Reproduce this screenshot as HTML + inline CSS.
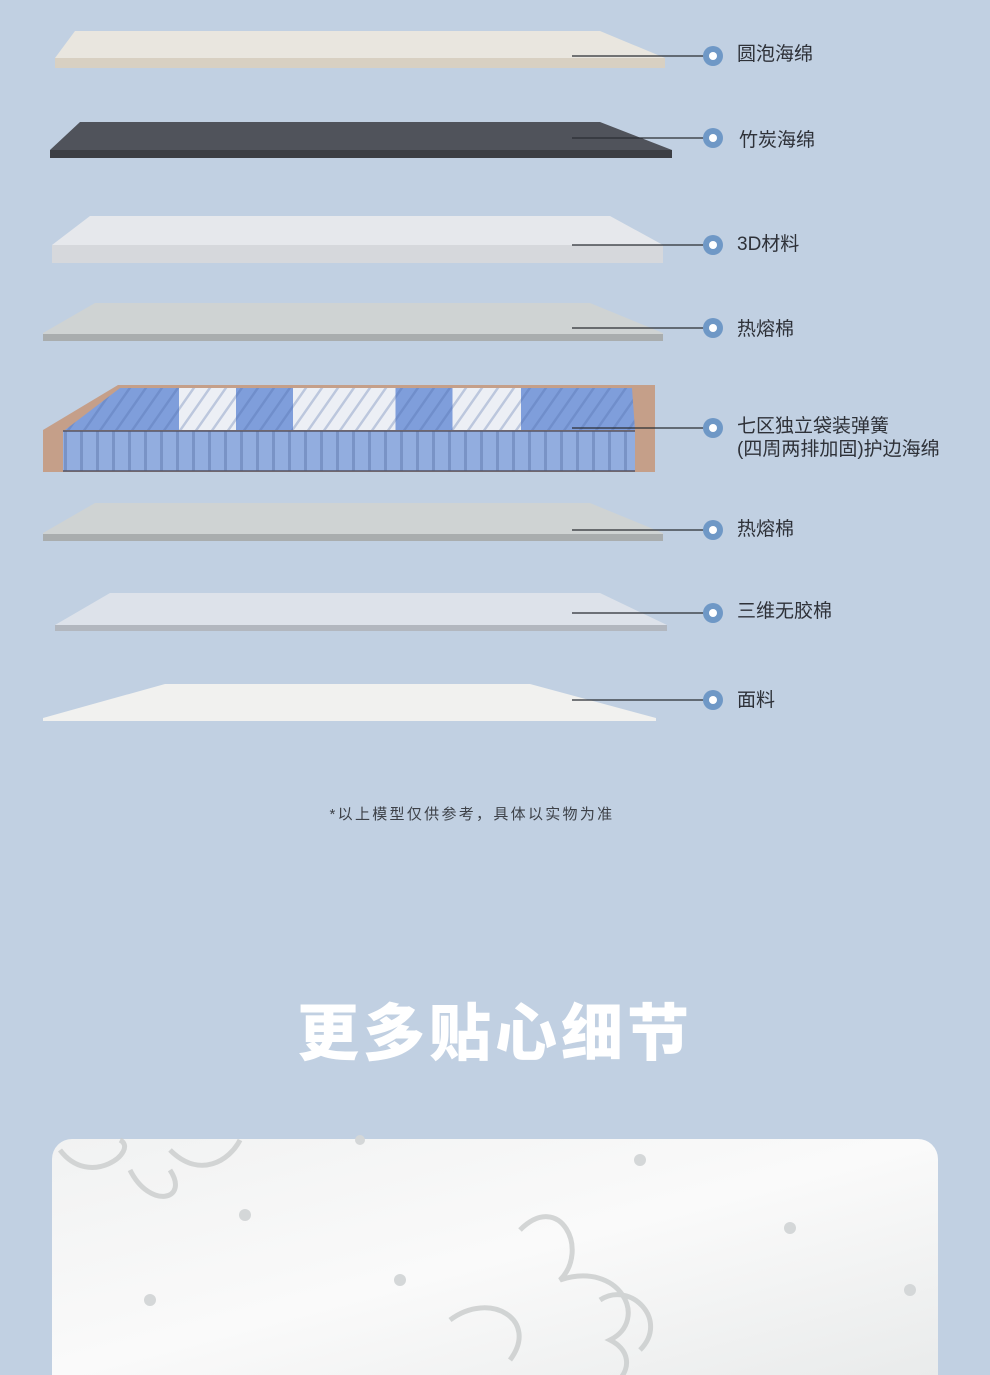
<!DOCTYPE html>
<html><head><meta charset="utf-8"><style>
html,body{margin:0;padding:0;}
body{width:990px;height:1375px;background:#c1d0e2;position:relative;overflow:hidden;font-family:"Liberation Sans","Noto Sans CJK SC",sans-serif;}
.lbl{position:absolute;left:737px;font-size:19px;color:#2e3138;line-height:24px;}
</style></head><body>
<svg width="990" height="1375" style="position:absolute;left:0;top:0">
<defs>
<linearGradient id="zones" x1="0" x2="1" y1="0" y2="0">
<stop offset="0" stop-color="#7f9edb"/><stop offset="0.2" stop-color="#7f9edb"/>
<stop offset="0.2" stop-color="#eceff5"/><stop offset="0.3" stop-color="#eceff5"/>
<stop offset="0.3" stop-color="#7f9edb"/><stop offset="0.4" stop-color="#7f9edb"/>
<stop offset="0.4" stop-color="#eceff5"/><stop offset="0.58" stop-color="#eceff5"/>
<stop offset="0.58" stop-color="#7f9edb"/><stop offset="0.68" stop-color="#7f9edb"/>
<stop offset="0.68" stop-color="#eceff5"/><stop offset="0.8" stop-color="#eceff5"/>
<stop offset="0.8" stop-color="#7f9edb"/><stop offset="1" stop-color="#7f9edb"/>
</linearGradient>
<pattern id="vl" width="16" height="40" patternUnits="userSpaceOnUse">
<rect width="16" height="40" fill="none"/><rect x="0" width="3" height="40" fill="#5c74a8" opacity="0.45"/>
</pattern>
<pattern id="sl" width="16" height="45" patternUnits="userSpaceOnUse" patternTransform="skewX(-35)">
<rect x="0" width="3" height="45" fill="#4c6aa6" opacity="0.3"/>
</pattern>
<linearGradient id="panel" x1="0" x2="1" y1="0" y2="1">
<stop offset="0" stop-color="#f1f2f2"/><stop offset="0.5" stop-color="#fafafa"/><stop offset="1" stop-color="#e9ebeb"/>
</linearGradient>
</defs>
<polygon points="75,31 600,31 665,58 665,68 55,68 55,58" fill="#e9e6df"/>
<rect x="55" y="58" width="610" height="10" fill="#d8d0c2"/>
<polygon points="80,122 600,122 672,150 672,158 50,158 50,150" fill="#50535b"/>
<rect x="50" y="150" width="622" height="8" fill="#3c3e44"/>
<polygon points="90,216 610,216 663,245 663,263 52,263 52,245" fill="#e6e8ec"/>
<rect x="52" y="245" width="611" height="18" fill="#d6d8dc"/>
<polygon points="95,303 590,303 663,333 663,341 43,341 43,333" fill="#cfd3d3"/>
<rect x="43" y="334" width="620" height="7" fill="#a9adae"/>
<polygon points="43,430 118,385 655,385 655,472 43,472" fill="#c59f89"/>
<polygon points="120,388 632,388 635,430 65,430" fill="url(#zones)"/>
<polygon points="120,388 632,388 635,430 65,430" fill="url(#sl)"/>
<rect x="63" y="431" width="572" height="40" fill="#92addf"/>
<rect x="63" y="431" width="572" height="40" fill="url(#vl)"/>
<line x1="63" y1="431" x2="635" y2="431" stroke="#556" stroke-width="1.5"/>
<line x1="63" y1="471" x2="635" y2="471" stroke="#556" stroke-width="1.5"/>
<polygon points="95,503 590,503 663,533 663,541 43,541 43,533" fill="#cfd3d3"/>
<rect x="43" y="534" width="620" height="7" fill="#a9adae"/>
<polygon points="110,593 600,593 667,625 667,631 55,631 55,625" fill="#dde2ea"/>
<rect x="55" y="625" width="612" height="6" fill="#b2b7bf"/>
<polygon points="165,684 530,684 656,718 656,721 43,721 43,718" fill="#f1f1ef"/>
<g stroke="#2a2d33" stroke-width="1.2">
<line x1="572" y1="56" x2="704" y2="56"/>
<line x1="572" y1="138" x2="704" y2="138"/>
<line x1="572" y1="245" x2="704" y2="245"/>
<line x1="572" y1="328" x2="704" y2="328"/>
<line x1="572" y1="428" x2="704" y2="428"/>
<line x1="572" y1="530" x2="704" y2="530"/>
<line x1="572" y1="613" x2="704" y2="613"/>
<line x1="572" y1="700" x2="704" y2="700"/>
</g>
<g fill="#6f98c6">
<circle cx="713" cy="56" r="10"/><circle cx="713" cy="138" r="10"/><circle cx="713" cy="245" r="10"/><circle cx="713" cy="328" r="10"/>
<circle cx="713" cy="428" r="10"/><circle cx="713" cy="530" r="10"/><circle cx="713" cy="613" r="10"/><circle cx="713" cy="700" r="10"/>
</g>
<g fill="#fff">
<circle cx="713" cy="56" r="4"/><circle cx="713" cy="138" r="4"/><circle cx="713" cy="245" r="4"/><circle cx="713" cy="328" r="4"/>
<circle cx="713" cy="428" r="4"/><circle cx="713" cy="530" r="4"/><circle cx="713" cy="613" r="4"/><circle cx="713" cy="700" r="4"/>
</g>
<path d="M72,1139 H918 A20,20 0 0 1 938,1159 V1375 H52 V1159 A20,20 0 0 1 72,1139 Z" fill="url(#panel)"/>
<g fill="none" stroke="#c9cccc" stroke-width="5" opacity="0.8">
<path d="M520,1230 c40,-40 70,20 40,50 c60,-20 90,40 50,60 c40,20 0,70 -40,40"/>
<path d="M450,1320 c40,-30 90,0 60,40 M600,1300 c30,-20 70,20 40,50"/>
<path d="M60,1150 c30,40 80,0 60,-10 M130,1170 c20,40 60,30 40,0 M170,1150 c30,30 60,10 70,-10"/>
</g>
<g fill="#d4d7d8">
<circle cx="245" cy="1215" r="6"/><circle cx="400" cy="1280" r="6"/><circle cx="640" cy="1160" r="6"/><circle cx="790" cy="1228" r="6"/><circle cx="910" cy="1290" r="6"/><circle cx="150" cy="1300" r="6"/><circle cx="360" cy="1140" r="5"/>
</g>
</svg>
<div class="lbl" style="top:43px">圆泡海绵</div>
<div class="lbl" style="top:129px;left:739px">竹炭海绵</div>
<div class="lbl" style="top:233px">3D材料</div>
<div class="lbl" style="top:318px">热熔棉</div>
<div class="lbl" style="top:415px;line-height:23px">七区独立袋装弹簧<br>(四周两排加固)护边海绵</div>
<div class="lbl" style="top:518px">热熔棉</div>
<div class="lbl" style="top:600px">三维无胶棉</div>
<div class="lbl" style="top:689px">面料</div>
<div style="position:absolute;left:0;width:944px;top:803px;text-align:center;font-size:15px;color:#3d4148;letter-spacing:2.3px">*以上模型仅供参考，具体以实物为准</div>
<div style="position:absolute;left:0;width:990px;top:990px;text-align:center;font-size:62px;color:#fff;letter-spacing:4px;line-height:76px;font-family:'Noto Sans CJK SC',sans-serif;font-weight:900">更多贴心细节</div>
</body></html>
